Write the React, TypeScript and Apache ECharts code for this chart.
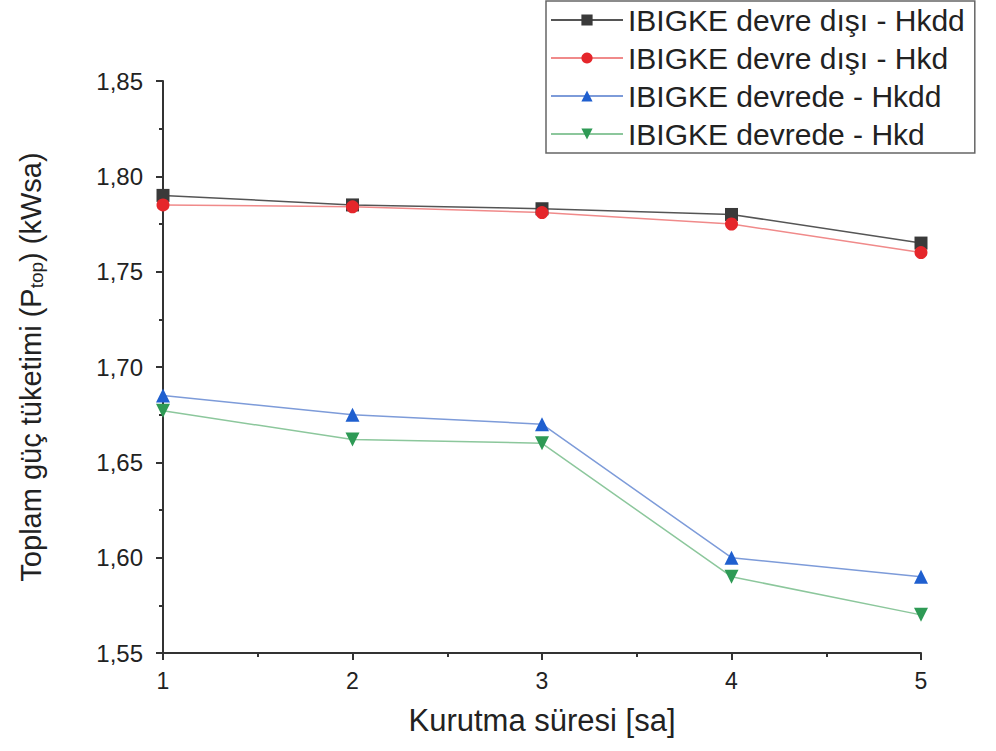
import React, { useEffect, useRef } from "react";
import * as echarts from "echarts";

const xValues = [1, 2, 3, 4, 5];
const seriesNames = [
  "IBIGKE devre dışı - Hkdd",
  "IBIGKE devre dışı - Hkd",
  "IBIGKE devrede - Hkdd",
  "IBIGKE devrede - Hkd",
];
const offHkdd = [1.79, 1.785, 1.783, 1.78, 1.765];
const offHkd = [1.785, 1.784, 1.781, 1.775, 1.76];
const onHkdd = [1.685, 1.675, 1.67, 1.6, 1.59];
const onHkd = [1.677, 1.662, 1.66, 1.59, 1.57];
const yTicks = { min: 1.55, max: 1.85, interval: 0.05 };
const xTicks = { min: 1, max: 5, interval: 1 };

const FONT = "'Liberation Sans', Arial, sans-serif";

export default function App() {
  const ref = useRef<HTMLDivElement>(null);
  useEffect(() => {
    if (!ref.current) return;
    const chart = echarts.init(ref.current, undefined, { renderer: "svg" });
    const styles = [
      { symbol: "rect", color: "#3a3a3a", line: "#555555", size: 13 },
      { symbol: "circle", color: "#e5262b", line: "#f08a8a", size: 13 },
      { symbol: "triangle", color: "#1f5fcf", line: "#7d9bd9", size: 14 },
      { symbol: "path://M0,0 L10,0 L5,9 Z", color: "#2e9a55", line: "#8cc79c", size: 14 },
    ];
    const datas = [offHkdd, offHkd, onHkdd, onHkd];
    chart.setOption({
      animation: false,
      backgroundColor: "#ffffff",
      textStyle: { fontFamily: FONT },
      grid: { left: 163, right: 75, top: 81, bottom: 98, containLabel: false },
      legend: {
        orient: "vertical",
        left: 546,
        top: 1,
        padding: [4, 10, 4, 4],
        itemWidth: 72,
        itemHeight: 14,
        itemGap: 8,
        borderColor: "#666",
        borderWidth: 1.5,
        backgroundColor: "#fff",
        textStyle: { fontSize: 30, color: "#222", fontFamily: FONT, lineHeight: 30 },
        data: seriesNames,
      },
      xAxis: {
        type: "value",
        min: xTicks.min,
        max: xTicks.max,
        interval: xTicks.interval,
        name: "Kurutma süresi [sa]",
        nameLocation: "middle",
        nameGap: 52,
        nameTextStyle: { fontSize: 31, color: "#222", fontFamily: FONT },
        axisLine: { onZero: false, lineStyle: { color: "#333", width: 2 } },
        axisTick: { inside: false, length: 7, lineStyle: { color: "#333", width: 2 } },
        minorTick: { show: true, splitNumber: 2, length: 4, lineStyle: { color: "#333", width: 2 } },
        axisLabel: { fontSize: 23, color: "#222", margin: 16, fontFamily: FONT },
        splitLine: { show: false },
      },
      yAxis: {
        type: "value",
        min: yTicks.min,
        max: yTicks.max,
        interval: yTicks.interval,
        name: "Toplam güç tüketimi (P{s|top}) (kWsa)",
        nameLocation: "middle",
        nameGap: 117,
        nameTextStyle: {
          fontSize: 29,
          color: "#222",
          fontFamily: FONT,
          rich: { s: { fontSize: 19, color: "#222", fontFamily: FONT, padding: [12, 0, 0, 0] } },
        },
        axisLine: { onZero: false, lineStyle: { color: "#333", width: 2 } },
        axisTick: { length: 7, lineStyle: { color: "#333", width: 2 } },
        minorTick: { show: true, splitNumber: 2, length: 4, lineStyle: { color: "#333", width: 2 } },
        axisLabel: {
          fontSize: 24,
          color: "#222",
          margin: 20,
          fontFamily: FONT,
          formatter: (v: number) => v.toFixed(2).replace(".", ","),
        },
        splitLine: { show: false },
      },
      series: seriesNames.map((name, i) => ({
        name,
        type: "line",
        data: xValues.map((x, j) => [x, datas[i][j]]),
        symbol: styles[i].symbol,
        symbolSize: styles[i].size,
        itemStyle: { color: styles[i].color },
        lineStyle: { color: styles[i].line, width: 1.5 },
        clip: false,
      })),
    });
    return () => chart.dispose();
  }, []);
  return (
    <div
      ref={ref}
      style={{ position: "absolute", left: 0, top: 0, width: 996, height: 751 }}
    />
  );
}
